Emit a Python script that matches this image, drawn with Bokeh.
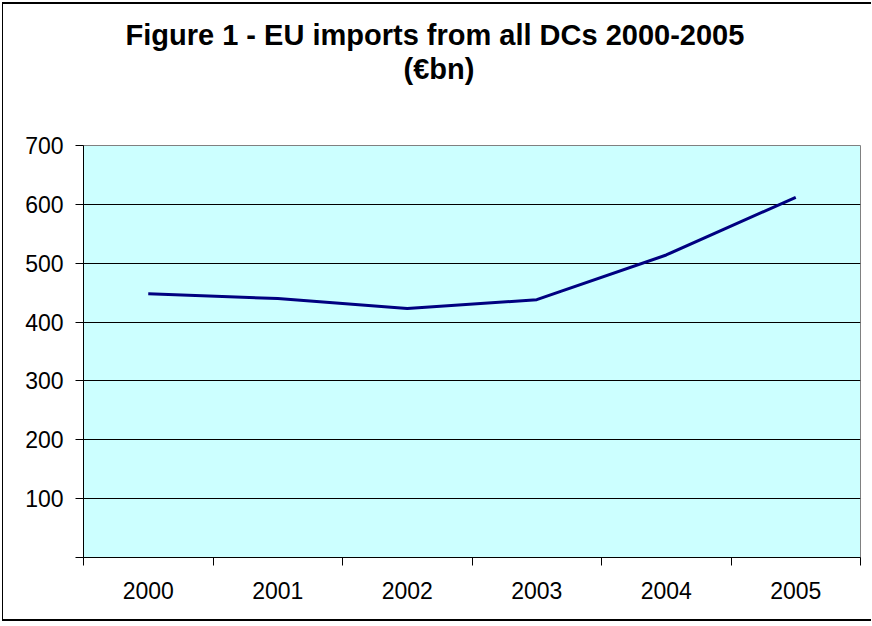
from bokeh.plotting import figure
from bokeh.models import Range1d, FixedTicker, Title
from bokeh.embed import file_html
from bokeh.resources import INLINE

years = ["2000", "2001", "2002", "2003", "2004", "2005"]
imports_bn = [448, 440, 423, 438, 514, 612]
y_ticks = [0, 100, 200, 300, 400, 500, 600, 700]
title_lines = ["Figure 1 - EU imports from all DCs 2000-2005", "(€bn)"]

FONT = "Liberation Sans"

xs = [i + 0.5 for i in range(len(years))]

p = figure(width=869, height=619, output_backend="svg", toolbar_location=None,
           x_range=Range1d(0, len(years)), y_range=Range1d(0, 700),
           min_border_left=80, min_border_right=12, min_border_top=141,
           min_border_bottom=66, title=None)
p.styles = {"margin-left": "2px", "margin-top": "2px",
            "border-left": "1px solid black", "border-top": "2px solid black",
            "border-bottom": "2px solid black"}

p.background_fill_color = "#CCFFFF"
p.border_fill_color = "white"
p.outline_line_color = "#808080"
p.outline_line_width = 1

p.line(xs, imports_bn, line_color="#000080", line_width=3)

# title panels, from the plot outward: spacer, second line, first line
p.add_layout(Title(text=" ", align="left", text_font=FONT, text_font_size="29px",
                   standoff=27), "above")
p.add_layout(Title(text=title_lines[1], align="left", text_font=FONT,
                   text_font_size="29px", text_font_style="bold", offset=320,
                   text_color="black", standoff=0), "above")
p.add_layout(Title(text=title_lines[0], align="left", text_font=FONT,
                   text_font_size="29px", text_font_style="bold", offset=42,
                   text_color="black", standoff=0), "above")

# x axis
xa = p.xaxis[0]
xa.ticker = FixedTicker(ticks=xs, minor_ticks=list(range(len(years) + 1)))
xa.major_label_overrides = {x: y for x, y in zip(xs, years)}
xa.major_tick_out = 0
xa.major_tick_in = 0
xa.minor_tick_out = 8
xa.minor_tick_in = 0
xa.minor_tick_line_color = "black"
xa.axis_line_color = "black"
xa.major_label_text_font = FONT
xa.major_label_text_font_size = "23px"
xa.major_label_text_color = "black"
xa.major_label_standoff = 16

# y axis
ya = p.yaxis[0]
ya.ticker = FixedTicker(ticks=y_ticks, minor_ticks=[])
ya.major_label_overrides = {0: ""}
ya.major_tick_out = 8
ya.major_tick_in = 0
ya.major_tick_line_color = "black"
ya.axis_line_color = "black"
ya.major_label_text_font = FONT
ya.major_label_text_font_size = "23px"
ya.major_label_text_color = "black"
ya.major_label_standoff = 12

p.xgrid.visible = False
p.ygrid.ticker = FixedTicker(ticks=y_ticks[1:-1])
p.ygrid.grid_line_color = "black"
p.ygrid.grid_line_width = 1

open("out.html", "w").write(file_html(p, INLINE))
